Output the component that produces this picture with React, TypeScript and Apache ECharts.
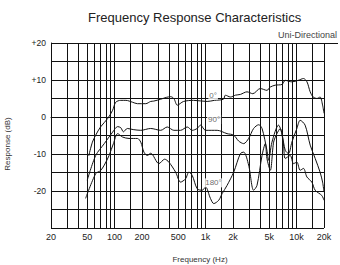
import React, { useEffect, useRef } from 'react';
import * as echarts from 'echarts';

// ---- data ----
const freq0 = [52, 57, 62, 70, 84, 95, 103, 117, 133, 157, 178, 220, 249, 269, 321, 370, 412, 448, 489, 572, 736, 1040, 1250, 1570, 1650, 1875, 2125, 2410, 2850, 3300, 3990, 4720, 5140, 5820, 6900, 7500, 8870, 10400, 11900, 13000, 14100, 15200, 16700, 18100, 19300, 20000];
const db0 = [-10.5, -6.8, -4.9, -2.7, -0.4, 1.8, 4.0, 4.5, 4.5, 4.0, 3.6, 3.6, 4.2, 4.3, 4.8, 5.3, 5.5, 5.0, 3.2, 4.2, 4.5, 4.2, 4.5, 4.8, 5.9, 5.4, 5.9, 6.1, 6.8, 6.3, 7.7, 7.2, 8.1, 8.6, 8.8, 9.9, 9.5, 9.9, 10.4, 9.5, 6.8, 5.4, 5.0, 5.4, 3.2, 1.0];

const freq90 = [50, 62, 77, 95, 108, 117, 125, 138, 160, 194, 249, 321, 379, 448, 531, 628, 713, 809, 879, 998, 1340, 1720, 2036, 2308, 2620, 2970, 3370, 3830, 4170, 4720, 4920, 5360, 6330, 6900, 7500, 8150, 8870, 10070, 10940, 12400, 14100, 16000, 18100, 19300, 20000];
const db90 = [-17.1, -10.4, -7.2, -4.1, -2.6, -2.9, -4.0, -3.1, -3.4, -3.6, -3.1, -3.6, -2.7, -3.6, -3.6, -2.7, -3.6, -3.1, -2.2, -3.6, -3.6, -4.5, -4.9, -6.5, -7.2, -5.8, -3.1, -2.1, -3.1, -9.0, -11.7, -6.8, -2.2, -4.5, -9.0, -9.9, -6.8, -3.1, -0.9, -2.2, -7.6, -11.2, -14.9, -17.6, -20.3];

const freq180 = [48, 62, 70, 77, 87, 97, 108, 122, 144, 178, 194, 210, 229, 249, 307, 355, 395, 468, 531, 602, 655, 713, 809, 918, 998, 1130, 1230, 1394, 1520, 1720, 2036, 2410, 2620, 2970, 3370, 3670, 4170, 4530, 4720, 5140, 5590, 6080, 6600, 7180, 7500, 8510, 9250, 10070, 10940, 11900, 12970, 14700, 16000, 18900, 20000];
const db180 = [-22, -15.3, -14.5, -13, -10.4, -7.2, -4.5, -5.4, -5.8, -5.8, -6.8, -9.5, -10.4, -9.8, -12.6, -11.4, -12.2, -14.9, -17.6, -16.7, -14.9, -15.8, -19.4, -19.8, -18.9, -22, -23.4, -22.5, -20.7, -18.5, -14.9, -9.9, -9.5, -13, -19.8, -18.5, -10.4, -7.2, -11.2, -14.4, -6.8, -4.5, -3.1, -7.6, -11.2, -10.4, -12.6, -12.2, -14.4, -13.9, -16.2, -17.6, -19.8, -21.2, -22.5];

const gridFreqs = [20, 30, 40, 50, 60, 70, 80, 90, 100, 150, 200, 300, 400, 500, 600, 700, 800, 900, 1000, 1500, 2000, 3000, 4000, 5000, 6000, 7000, 8000, 9000, 10000, 15000, 20000];
const tickFreqs = [20, 50, 100, 200, 500, 1000, 2000, 5000, 10000, 20000];
const tickLabels = ['20', '50', '100', '200', '500', '1k', '2k', '5k', '10k', '20k'];

const yLabelValues = [20, 10, 0, -10, -20];
const yLabelTexts = ['+20', '+10', '0', '-10', '-20'];

const curveNames = ['0°', '90°', '180°'];
const curveLabelFreq = [1210, 1240, 1220];
const curveLabelDb = [5.9, -0.7, -17.8];

const FONT = '"Liberation Sans", Arial, Helvetica, sans-serif';

function pairs(xs: number[], ys: number[]) {
  return xs.map((x, i) => [x, ys[i]]);
}

export default function App() {
  const ref = useRef<HTMLDivElement>(null);
  useEffect(() => {
    if (!ref.current) return;
    const chart = echarts.init(ref.current, undefined, { renderer: 'svg' });
    const lineSeries = (name: string, data: number[][]) => ({
      name,
      type: 'line',
      data,
      symbol: 'none',
      smooth: 0.3,
      lineStyle: { color: '#111', width: 1 },
      emphasis: { disabled: true },
      z: 5,
    });
    const option: any = {
      animation: false,
      textStyle: { fontFamily: FONT },
      title: [
        {
          text: 'Frequency Response Characteristics',
          left: 88,
          top: 11,
          padding: 0,
          textStyle: { fontSize: 13, fontWeight: 'normal', color: '#222', fontFamily: FONT },
        },
        {
          text: 'Uni-Directional',
          right: 3,
          top: 30,
          padding: 0,
          textStyle: { fontSize: 9, fontWeight: 'normal', color: '#444', fontFamily: FONT },
        },
      ],
      grid: { left: 51, right: 16, top: 43, bottom: 37 },
      xAxis: {
        type: 'log',
        logBase: 10,
        min: 20,
        max: 20000,
        axisLine: { show: true, lineStyle: { color: '#111', width: 1 } },
        axisTick: { show: false },
        axisLabel: { show: false },
        splitLine: { show: false },
      },
      yAxis: {
        type: 'value',
        min: -30,
        max: 20,
        interval: 5,
        axisLine: { show: true, lineStyle: { color: '#111', width: 1 } },
        axisTick: { show: false },
        axisLabel: {
          fontSize: 8.5,
          color: '#222',
          margin: 5,
          fontFamily: FONT,
          formatter: (v: number) => {
            const i = yLabelValues.indexOf(v);
            return i >= 0 ? yLabelTexts[i] : '';
          },
        },
        splitLine: { show: true, lineStyle: { color: '#111', width: 1 } },
      },
      graphic: [
        {
          type: 'text',
          x: 7,
          y: 144,
          rotation: Math.PI / 2,
          style: {
            text: 'Response (dB)',
            fontSize: 8,
            fontFamily: FONT,
            fill: '#333',
            align: 'center',
            verticalAlign: 'middle',
          },
        },
        {
          type: 'text',
          x: 200,
          y: 255,
          style: {
            text: 'Frequency (Hz)',
            fontSize: 8,
            fontFamily: FONT,
            fill: '#333',
            align: 'center',
            verticalAlign: 'top',
          },
        },
        {
          type: 'line',
          shape: { x1: 324, y1: 43.5, x2: 338, y2: 43.5 },
          style: { stroke: '#111', lineWidth: 1 },
        },
      ],
      series: [
        {
          ...lineSeries(curveNames[0], pairs(freq0, db0)),
          markLine: {
            silent: true,
            symbol: ['none', 'none'],
            animation: false,
            lineStyle: { type: 'solid', color: '#111', width: 1 },
            emphasis: { disabled: true },
            label: { show: false },
            data: gridFreqs.map((f) => {
              const i = tickFreqs.indexOf(f);
              return i >= 0
                ? {
                    xAxis: f,
                    label: {
                      show: true,
                      position: 'start',
                      formatter: tickLabels[i],
                      fontSize: 9,
                      color: '#222',
                      fontFamily: FONT,
                      distance: 4,
                    },
                  }
                : { xAxis: f };
            }),
          },
        },
        lineSeries(curveNames[1], pairs(freq90, db90)),
        lineSeries(curveNames[2], pairs(freq180, db180)),
        {
          type: 'scatter',
          symbol: 'rect',
          symbolSize: 1,
          itemStyle: { color: 'transparent' },
          z: 10,
          silent: true,
          data: curveNames.map((n, i) => ({ name: n, value: [curveLabelFreq[i], curveLabelDb[i]] })),
          label: {
            show: true,
            position: 'inside',
            formatter: '{b}',
            fontSize: 8,
            color: '#444',
            fontFamily: FONT,
            backgroundColor: '#fff',
            padding: [1, 1, 0, 1],
          },
        },
      ],
    };
    chart.setOption(option);
    return () => chart.dispose();
  }, []);
  return (
    <div
      ref={ref}
      style={{ position: 'fixed', left: 0, top: 0, width: 340, height: 265, background: '#fff' }}
    />
  );
}
